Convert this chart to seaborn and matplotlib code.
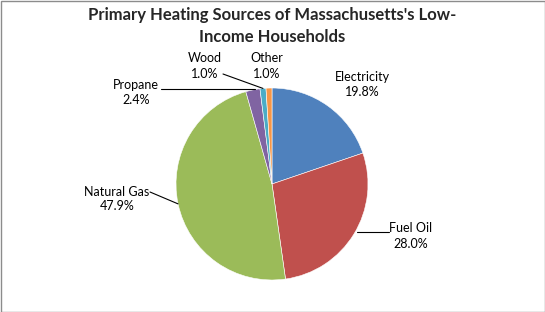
import matplotlib
matplotlib.use("Agg")
import matplotlib.pyplot as plt
import seaborn as sns
import numpy as np
from matplotlib.patches import Rectangle

categories = ["Electricity", "Fuel Oil", "Natural Gas", "Propane", "Wood", "Other"]
shares = [19.8, 28.0, 47.9, 2.4, 1.0, 1.0]
colors = ["#4F81BD", "#C0504D", "#9BBB59", "#8064A2", "#4BACC6", "#F79646"]
title = "Primary Heating Sources of Massachusetts's Low-\nIncome Households"

sns.set_theme(style="white")
plt.rcParams['font.family'] = ['Lato', 'DejaVu Sans']

W, H = 545, 312
fig = plt.figure(figsize=(W / 100, H / 100), dpi=100)
fig.patch.set_facecolor("white")

cx, cy, r = 272, 184, 96
ax = fig.add_axes([(cx - r) / W, 1 - (cy + r) / H, 2 * r / W, 2 * r / H])
wedges, _ = ax.pie(shares, colors=colors, startangle=90, counterclock=False,
                   wedgeprops=dict(linewidth=0.4, edgecolor="white"))
ax.set_xlim(-1, 1)
ax.set_ylim(-1, 1)
ax.set_aspect("auto")
ax.axis("off")

def px(x, y):
    return (x / W, 1 - y / H)

# label text positions (pixel centers of the two-line labels)
label_pos = {
    "Electricity": (362, 85),
    "Fuel Oil": (411, 236),
    "Natural Gas": (117, 199),
    "Propane": (136, 92),
    "Wood": (205, 66),
    "Other": (267, 66),
}
# leader lines (pixel start, mode)
leaders = {
    "Fuel Oil": ((389, 232), "h"),
    "Natural Gas": ((150, 192), None),
    "Propane": ((161, 89), "h"),
    "Wood": ((223, 74), None),
}

for w, cat, val in zip(wedges, categories, shares):
    lx, ly = label_pos[cat]
    fig.text(*px(lx, ly), f"{cat}\n{val:.1f}%", ha="center", va="center",
             fontsize=9, color="#000000", linespacing=1.3)
    if cat in leaders:
        (sx, sy), mode = leaders[cat]
        ang = np.deg2rad((w.theta1 + w.theta2) / 2)
        ex, ey = cx + r * np.cos(ang), cy - r * np.sin(ang)
        if mode == "h":
            ex, ey = ex + (2 if ex < cx else 3), sy
        fig.lines.append(plt.Line2D([sx / W, ex / W], [1 - sy / H, 1 - ey / H],
                                    transform=fig.transFigure, color="black", lw=0.8))

fig.text(0.5, 1 - 26 / H, title, ha="center", va="center", fontsize=12,
         fontweight="bold", linespacing=1.5)

fig.patches.append(Rectangle((0.5 / W, 0.5 / H), 1 - 1 / W, 1 - 1 / H, transform=fig.transFigure,
                             fill=False, edgecolor="#8c8c8c", lw=1))

fig.savefig("out.png", dpi=100, facecolor="white")
